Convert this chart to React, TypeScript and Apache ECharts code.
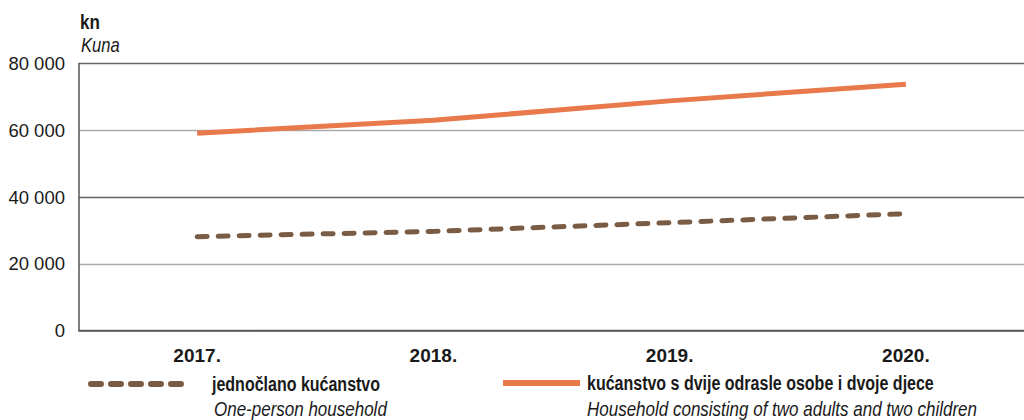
import React, { useEffect, useRef } from "react";
import * as echarts from "echarts";

const years = ["2017.", "2018.", "2019.", "2020."];
const onePerson = [28100, 29700, 32300, 35000];
const twoAdultsTwoChildren = [59100, 63000, 68800, 73800];
const yTicks = [0, 20000, 40000, 60000, 80000];
const seriesNamesHr = ["jednočlano kućanstvo", "kućanstvo s dvije odrasle osobe i dvoje djece"];
const seriesNamesEn = ["One-person household", "Household consisting of two adults and two children"];
const unitHr = "kn";
const unitEn = "Kuna";

const FONT = "'Liberation Sans', Arial, sans-serif";
const BROWN = "#7A5C45";
const ORANGE = "#E8794A";
const INK = "#1a1a1a";

function label(text: string, x: number, y: number, bold: boolean, sx: number) {
  return {
    type: "text",
    x,
    y,
    scaleX: sx,
    style: {
      text,
      fontFamily: FONT,
      fontSize: 20,
      fontWeight: bold ? "bold" : "normal",
      fontStyle: bold ? "normal" : "italic",
      fill: INK,
      textVerticalAlign: "middle",
      verticalAlign: "middle",
    },
  };
}

export default function App() {
  const ref = useRef<HTMLDivElement>(null);
  useEffect(() => {
    if (!ref.current) return;
    const chart = echarts.init(ref.current, null, { renderer: "svg" });
    const fmt = (v: number) => String(v).replace(/\B(?=(\d{3})+(?!\d))/g, " ");
    chart.setOption({
      animation: false,
      textStyle: { fontFamily: FONT },
      grid: { left: 79, right: -13, top: 63.5, bottom: 89.5, containLabel: false },
      xAxis: {
        type: "category",
        data: years,
        boundaryGap: true,
        axisTick: { show: false },
        axisLine: { lineStyle: { color: "#555", width: 1.5 } },
        axisLabel: { color: INK, fontSize: 19, fontWeight: "bold", margin: 15, fontFamily: FONT },
      },
      yAxis: {
        type: "value",
        min: yTicks[0],
        max: yTicks[yTicks.length - 1],
        interval: yTicks[1] - yTicks[0],
        axisLine: { show: true, lineStyle: { color: "#555", width: 1.5 } },
        axisTick: { show: false },
        splitLine: { show: true, lineStyle: { color: ["#666", "#aaa"], width: 1.3 } },
        axisLabel: { color: INK, fontSize: 18.5, margin: 14, fontFamily: FONT, formatter: fmt },
      },
      series: [
        {
          name: seriesNamesHr[0],
          type: "line",
          data: onePerson,
          symbol: "none",
          lineStyle: { color: BROWN, width: 5, type: [10, 11], cap: "round" },
          z: 3,
        },
        {
          name: seriesNamesHr[1],
          type: "line",
          data: twoAdultsTwoChildren,
          symbol: "none",
          lineStyle: { color: ORANGE, width: 5 },
          z: 4,
        },
      ],
      graphic: [
        label(unitHr, 80, 22, true, 0.85),
        label(unitEn, 81, 45, false, 0.83),
        { type: "line", shape: { x1: 91, y1: 384, x2: 186, y2: 384 }, style: { stroke: BROWN, lineWidth: 6, lineDash: [10, 10], lineCap: "round" } },
        label(seriesNamesHr[0], 212, 384, true, 0.8),
        label(seriesNamesEn[0], 214, 409, false, 0.85),
        { type: "line", shape: { x1: 503, y1: 383, x2: 580, y2: 383 }, style: { stroke: ORANGE, lineWidth: 6 } },
        label(seriesNamesHr[1], 587, 383, true, 0.8),
        label(seriesNamesEn[1], 587, 409, false, 0.85),
      ],
    });
    return () => chart.dispose();
  }, []);
  return <div ref={ref} style={{ position: "absolute", left: 0, top: 0, width: 1024, height: 420 }} />;
}
